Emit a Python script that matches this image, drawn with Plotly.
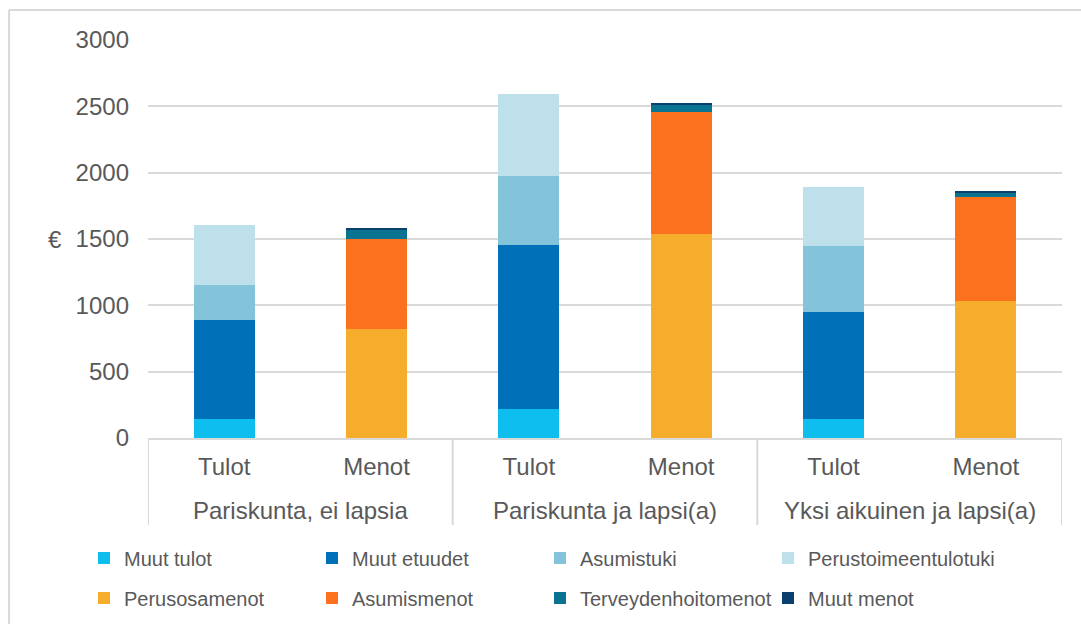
import plotly.graph_objects as go

# Household groups, each with a Tulot and a Menot bar
group_names = ["Pariskunta, ei lapsia", "Pariskunta ja lapsi(a)", "Yksi aikuinen ja lapsi(a)"]
kinds = ["Tulot", "Menot", "Tulot", "Menot", "Tulot", "Menot"]
xpos = [0, 1, 2, 3, 4, 5]

# Income components (Tulot bars), euros per month
muut_tulot = [140, None, 220, None, 145, None]
muut_etuudet = [750, None, 1235, None, 805, None]
asumistuki = [265, None, 520, None, 497, None]
perustoimeentulotuki = [450, None, 615, None, 445, None]

# Expense components (Menot bars)
perusosamenot = [None, 822, None, 1538, None, 1033]
asumismenot = [None, 678, None, 920, None, 784]
terveydenhoitomenot = [None, 68, None, 53, None, 35]
muut_menot = [None, 10, None, 15, None, 12]

series = [
    ("Muut tulot", muut_tulot, "#0DBEEF", "legend"),
    ("Muut etuudet", muut_etuudet, "#0070B9", "legend"),
    ("Asumistuki", asumistuki, "#84C4DB", "legend"),
    ("Perustoimeentulotuki", perustoimeentulotuki, "#BDE0EB", "legend"),
    ("Perusosamenot", perusosamenot, "#F6AD2B", "legend2"),
    ("Asumismenot", asumismenot, "#FB711E", "legend2"),
    ("Terveydenhoitomenot", terveydenhoitomenot, "#0A738F", "legend2"),
    ("Muut menot", muut_menot, "#0B3F6D", "legend2"),
]

FONT = "Liberation Sans, Arial, sans-serif"
GREY = "#595959"
LINE = "#D9D9D9"

fig = go.Figure()
for name, vals, col, leg in series:
    fig.add_trace(go.Bar(x=xpos, y=vals, name=name, legend=leg,
                         marker_color=col, marker_line_width=0))

# two one-row legends, placed in container coordinates
legend_style = dict(orientation="h", x=84 / 1081, xanchor="left", xref="container",
                    yanchor="middle", yref="container", entrywidth=183,
                    font=dict(size=20), traceorder="normal", itemclick=False,
                    bgcolor="rgba(0,0,0,0)")

fig.update_layout(
    width=1081, height=624,
    barmode="stack", bargap=0.6,
    paper_bgcolor="white", plot_bgcolor="white",
    margin=dict(l=148, r=19, t=40, b=186),
    font=dict(family=FONT, color=GREY, size=24),
    legend=dict(legend_style, y=1 - 558 / 624),
    legend2=dict(legend_style, y=1 - 598 / 624),
)

fig.update_yaxes(range=[0, 3000], dtick=500, gridcolor=LINE, gridwidth=1.5,
                 zeroline=False, showline=False, ticklabelstandoff=18,
                 automargin=False, tickfont=dict(size=24))
fig.update_xaxes(range=[-0.5, 5.5], tickvals=xpos, ticktext=kinds,
                 showline=True, linecolor=LINE, linewidth=2, showgrid=False,
                 ticklabelstandoff=6, automargin=False, tickfont=dict(size=24))

# Group labels under the Tulot/Menot row
for i, g in enumerate(group_names):
    fig.add_annotation(text=g, xref="x", yref="paper", x=2 * i + 0.5, y=-0.1834,
                       xanchor="center", yanchor="middle", showarrow=False,
                       font=dict(size=24, color=GREY))

# Divider lines between the groups
for b in [-0.5, 1.5, 3.5, 5.5]:
    fig.add_shape(type="line", xref="x", yref="paper", x0=b, x1=b,
                  y0=0, y1=-0.2186, line=dict(color=LINE, width=2))

# Euro sign next to the y axis
fig.add_annotation(text="€", xref="paper", yref="paper", x=-0.102, y=0.5,
                   xanchor="center", yanchor="middle", showarrow=False,
                   font=dict(size=24, color=GREY))

# Chart area frame (top and left edges)
fig.add_shape(type="line", xref="paper", yref="paper", x0=-0.152, x1=1.03,
              y0=1.0754, y1=1.0754, line=dict(color=LINE, width=2))
fig.add_shape(type="line", xref="paper", yref="paper", x0=-0.152, x1=-0.152,
              y0=1.0754, y1=-0.48, line=dict(color=LINE, width=2))

fig.write_html("out.html", config={"displayModeBar": False},
               post_script="document.body.style.margin='0';")
